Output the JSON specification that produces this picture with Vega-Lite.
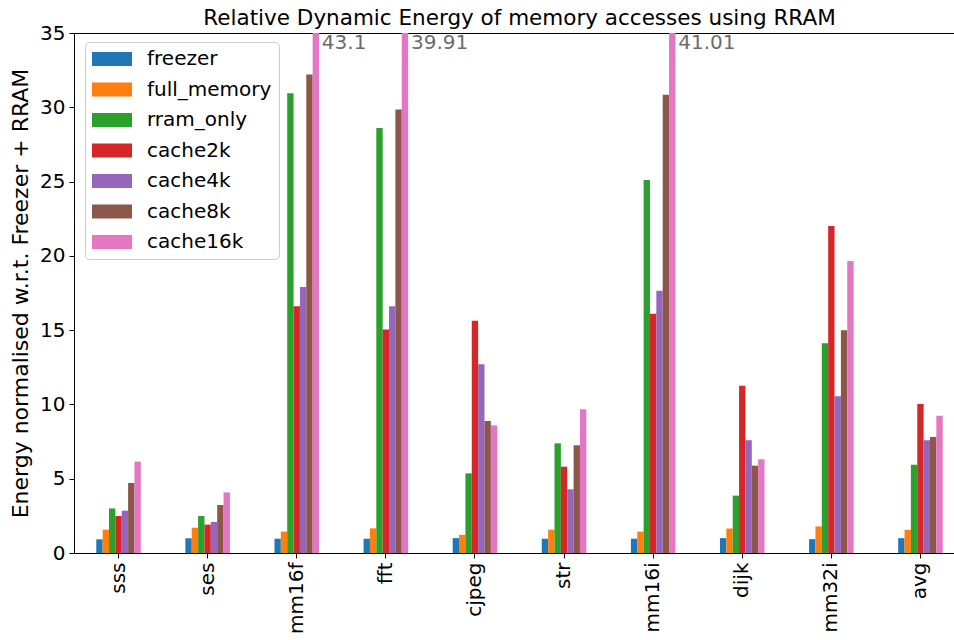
{
  "$schema": "https://vega.github.io/schema/vega-lite/v6.json",
  "width": 891,
  "height": 520,
  "padding": {"left": 9, "top": 7, "right": 0, "bottom": 0},
  "background": "white",
  "title": {"text": "Relative Dynamic Energy of memory accesses using RRAM", "fontSize": 21.5, "fontWeight": "normal", "font": "DejaVu Sans", "color": "black", "offset": -6, "anchor": "middle"},
  "config": {
    "font": "DejaVu Sans",
    "view": {"stroke": "black", "strokeWidth": 1},
    "axis": {"domainColor": "black", "tickColor": "black", "labelColor": "black", "titleColor": "black", "labelFont": "DejaVu Sans", "titleFont": "DejaVu Sans", "labelFontSize": 20, "titleFontSize": 20, "titleFontWeight": "normal", "tickSize": 5, "grid": false, "domainWidth": 1, "tickWidth": 1}
  },
  "data": {"values": [
    {"bench": "sss", "config": "freezer", "value": 0.92},
    {"bench": "sss", "config": "full_memory", "value": 1.57},
    {"bench": "sss", "config": "rram_only", "value": 3.0},
    {"bench": "sss", "config": "cache2k", "value": 2.49},
    {"bench": "sss", "config": "cache4k", "value": 2.85},
    {"bench": "sss", "config": "cache8k", "value": 4.71},
    {"bench": "sss", "config": "cache16k", "value": 6.15},
    {"bench": "ses", "config": "freezer", "value": 0.99},
    {"bench": "ses", "config": "full_memory", "value": 1.7},
    {"bench": "ses", "config": "rram_only", "value": 2.49},
    {"bench": "ses", "config": "cache2k", "value": 1.91},
    {"bench": "ses", "config": "cache4k", "value": 2.09},
    {"bench": "ses", "config": "cache8k", "value": 3.23},
    {"bench": "ses", "config": "cache16k", "value": 4.08},
    {"bench": "mm16f", "config": "freezer", "value": 0.96},
    {"bench": "mm16f", "config": "full_memory", "value": 1.44},
    {"bench": "mm16f", "config": "rram_only", "value": 30.95},
    {"bench": "mm16f", "config": "cache2k", "value": 16.6},
    {"bench": "mm16f", "config": "cache4k", "value": 17.9},
    {"bench": "mm16f", "config": "cache8k", "value": 32.2},
    {"bench": "mm16f", "config": "cache16k", "value": 43.1},
    {"bench": "fft", "config": "freezer", "value": 0.96},
    {"bench": "fft", "config": "full_memory", "value": 1.66},
    {"bench": "fft", "config": "rram_only", "value": 28.6},
    {"bench": "fft", "config": "cache2k", "value": 15.05},
    {"bench": "fft", "config": "cache4k", "value": 16.6},
    {"bench": "fft", "config": "cache8k", "value": 29.85},
    {"bench": "fft", "config": "cache16k", "value": 39.91},
    {"bench": "cjpeg", "config": "freezer", "value": 1.0},
    {"bench": "cjpeg", "config": "full_memory", "value": 1.22},
    {"bench": "cjpeg", "config": "rram_only", "value": 5.36},
    {"bench": "cjpeg", "config": "cache2k", "value": 15.64},
    {"bench": "cjpeg", "config": "cache4k", "value": 12.7},
    {"bench": "cjpeg", "config": "cache8k", "value": 8.88},
    {"bench": "cjpeg", "config": "cache16k", "value": 8.59},
    {"bench": "str", "config": "freezer", "value": 0.96},
    {"bench": "str", "config": "full_memory", "value": 1.57},
    {"bench": "str", "config": "rram_only", "value": 7.38},
    {"bench": "str", "config": "cache2k", "value": 5.81},
    {"bench": "str", "config": "cache4k", "value": 4.29},
    {"bench": "str", "config": "cache8k", "value": 7.25},
    {"bench": "str", "config": "cache16k", "value": 9.67},
    {"bench": "mm16i", "config": "freezer", "value": 0.96},
    {"bench": "mm16i", "config": "full_memory", "value": 1.44},
    {"bench": "mm16i", "config": "rram_only", "value": 25.1},
    {"bench": "mm16i", "config": "cache2k", "value": 16.1},
    {"bench": "mm16i", "config": "cache4k", "value": 17.65},
    {"bench": "mm16i", "config": "cache8k", "value": 30.85},
    {"bench": "mm16i", "config": "cache16k", "value": 41.01},
    {"bench": "dijk", "config": "freezer", "value": 1.0},
    {"bench": "dijk", "config": "full_memory", "value": 1.65},
    {"bench": "dijk", "config": "rram_only", "value": 3.86},
    {"bench": "dijk", "config": "cache2k", "value": 11.26},
    {"bench": "dijk", "config": "cache4k", "value": 7.59},
    {"bench": "dijk", "config": "cache8k", "value": 5.88},
    {"bench": "dijk", "config": "cache16k", "value": 6.31},
    {"bench": "mm32i", "config": "freezer", "value": 0.93},
    {"bench": "mm32i", "config": "full_memory", "value": 1.79},
    {"bench": "mm32i", "config": "rram_only", "value": 14.11},
    {"bench": "mm32i", "config": "cache2k", "value": 22.01},
    {"bench": "mm32i", "config": "cache4k", "value": 10.55},
    {"bench": "mm32i", "config": "cache8k", "value": 14.99},
    {"bench": "mm32i", "config": "cache16k", "value": 19.65},
    {"bench": "avg", "config": "freezer", "value": 1.0},
    {"bench": "avg", "config": "full_memory", "value": 1.56},
    {"bench": "avg", "config": "rram_only", "value": 5.94},
    {"bench": "avg", "config": "cache2k", "value": 10.03},
    {"bench": "avg", "config": "cache4k", "value": 7.59},
    {"bench": "avg", "config": "cache8k", "value": 7.81},
    {"bench": "avg", "config": "cache16k", "value": 9.24}
  ]},
  "encoding": {
    "x": {"field": "bench", "type": "nominal", "sort": null,
      "scale": {"paddingInner": 0.5, "paddingOuter": 0.25},
      "axis": {"title": null, "labelAngle": -90, "labelPadding": 4}},
    "xOffset": {"field": "config", "type": "nominal",
      "scale": {"domain": ["freezer", "full_memory", "rram_only", "cache2k", "cache4k", "cache8k", "cache16k"], "paddingInner": 0, "paddingOuter": 0}},
    "y": {"field": "value", "type": "quantitative",
      "scale": {"domain": [0, 35], "nice": false, "clamp": true},
      "axis": {"title": "Energy normalised w.r.t. Freezer + RRAM", "titleFontSize": 22, "values": [0, 5, 10, 15, 20, 25, 30, 35], "labelPadding": 4, "titlePadding": 7}}
  },
  "layer": [
    {
      "mark": {"type": "bar", "clip": true},
      "encoding": {
        "color": {"field": "config", "type": "nominal",
          "scale": {"domain": ["freezer", "full_memory", "rram_only", "cache2k", "cache4k", "cache8k", "cache16k"],
                    "range": ["#1f77b4", "#ff7f0e", "#2ca02c", "#d62728", "#9467bd", "#8c564b", "#e377c2"]},
          "legend": {"orient": "none", "legendX": 11, "legendY": 9, "title": null,
            "symbolType": "M-2.857,-1H2.857V1H-2.857Z", "symbolSize": 196, "symbolStrokeWidth": 0, "symbolOpacity": 1, "symbolOffset": 10,
            "labelFontSize": 20, "labelFont": "DejaVu Sans", "labelColor": "black", "labelOffset": 25, "labelLimit": 300,
            "rowPadding": 10.5, "padding": 7, "fillColor": "white", "strokeColor": "#cccccc", "cornerRadius": 4}}
      }
    },
    {
      "transform": [{"filter": "datum.value > 35"}],
      "mark": {"type": "text", "align": "left", "baseline": "top", "dx": 6, "dy": 0, "fontSize": 20, "font": "DejaVu Sans", "color": "#6b6b6b"},
      "encoding": {
        "text": {"field": "value", "type": "quantitative"}
      }
    }
  ]
}
